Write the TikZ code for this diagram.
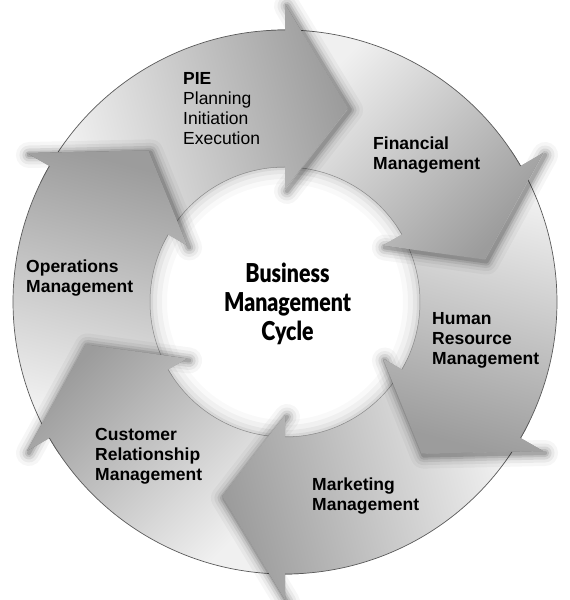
\documentclass[tikz,border=0pt]{standalone}
\usepackage{fontspec}
\setmainfont{Liberation Sans}
\newfontfamily\titlefont{Lato Black}[FakeStretch=0.82]
\definecolor{arrowlight}{HTML}{F0F0F0}
\definecolor{arrowdark}{HTML}{9C9C9C}
\definecolor{rimline}{HTML}{5A5A5A}
\definecolor{innerline}{HTML}{8A8A8A}
\tikzset{
  cyclabel/.style={anchor=north west,inner sep=0pt,align=left,text=black,
    font=\fontsize{17.5}{20}\selectfont\bfseries},
  cyctitle/.style={anchor=north,inner sep=0pt,align=center,text=black,
    font=\fontsize{26}{29}\titlefont}
}
\begin{document}
\begin{tikzpicture}[x=1pt,y=1pt]
\useasboundingbox (0,0) rectangle (570,600);
\fill[white] (0,0) rectangle (570,600);
\coordinate (C) at (285,298);
\begin{scope}[shift={(C)}]
  % soft shadow inside the ring
  \foreach \w/\o in {34/0.025,24/0.035,14/0.045,6/0.06}
    \draw[black,opacity=\o,line width=\w pt] (0,0) circle[radius=135pt];
  % arrow bodies
  \foreach \b in {90,30,-30,-90,-150,150}{
    \pgfmathsetmacro\g{\b+60}
    \pgfmathsetmacro\go{\g-3.383}
    \pgfmathsetmacro\gi{\g-6.956}
    \pgfmathsetmacro\gt{\g-18}
    \pgfmathsetmacro\bt{\b-18}
    \pgfmathsetmacro\sa{\b+15}
    \shade[left color=arrowlight,right color=arrowdark,shading angle=\sa]
      (\go:272) arc[start angle=\go,end angle=\b,radius=272pt] -- (\b:298) -- (\bt:204)
      -- (\b:113) -- (\b:135) arc[start angle=\b,end angle=\gi,radius=135pt] -- (\gt:204) -- cycle;
    \draw[rimline,line width=0.7pt] (\go:272) arc[start angle=\go,end angle=\b,radius=272pt];
    \draw[innerline,line width=0.5pt] (\b:135) arc[start angle=\b,end angle=\gi,radius=135pt];
  }
  % blurred shadows of the heads
  \foreach \b in {90,30,-30,-90,-150,150}{
    \pgfmathsetmacro\bt{\b-18}
    \foreach \w/\o in {26/0.035,19/0.05,13/0.08,8/0.1,4/0.13}
      \draw[black,opacity=\o,line width=\w pt,line join=round,line cap=round,shift={(2,-2)}]
        (\b:298) -- (\bt:204) -- (\b:113);
  }
  % heads redrawn on top
  \foreach \b in {90,30,-30,-90,-150,150}{
    \pgfmathsetmacro\g{\b+60}
    \pgfmathsetmacro\go{\g-3.383}
    \pgfmathsetmacro\gi{\g-6.956}
    \pgfmathsetmacro\gt{\g-18}
    \pgfmathsetmacro\bt{\b-18}
    \pgfmathsetmacro\bp{\b+4}
    \pgfmathsetmacro\sa{\b+15}
    \begin{scope}
      \clip (\bp:300) -- (\b:300) -- (\bt:204) -- (\b:110) -- (\bp:110) -- cycle;
      \shade[left color=arrowlight,right color=arrowdark,shading angle=\sa]
        (\go:272) arc[start angle=\go,end angle=\b,radius=272pt] -- (\b:298) -- (\bt:204)
        -- (\b:113) -- (\b:135) arc[start angle=\b,end angle=\gi,radius=135pt] -- (\gt:204) -- cycle;
      \draw[rimline,line width=0.7pt] (\go:272) arc[start angle=\go,end angle=\b,radius=272pt];
      \draw[innerline,line width=0.5pt] (\b:135) arc[start angle=\b,end angle=\gi,radius=135pt];
    \end{scope}
  }
\end{scope}
% labels
\node[cyclabel] (pie) at (183,528) {PIE\\\mdseries Planning\\\mdseries Initiation\\\mdseries Execution};
\node[cyclabel] (fin) at (373,463) {Financial\\Management};
\node[cyclabel] (hr) at (432,288) {Human\\Resource\\Management};
\node[cyclabel] (mkt) at (312,122) {Marketing\\Management};
\node[cyclabel] (crm) at (95,172) {Customer\\Relationship\\Management};
\node[cyclabel] (ops) at (26,340) {Operations\\Management};
\node[cyctitle] (title) at (287.5,337) {Business\\Management\\Cycle};
\end{tikzpicture}
\end{document}
